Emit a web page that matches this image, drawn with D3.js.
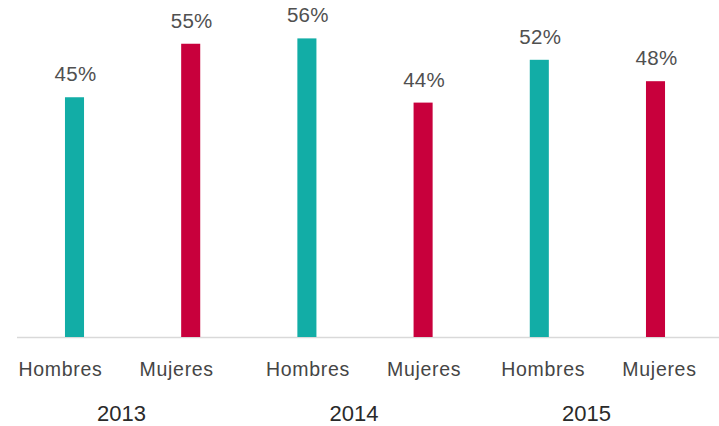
<!DOCTYPE html>
<html><head><meta charset="utf-8">
<script src="https://cdn.jsdelivr.net/npm/d3@7"></script>
<style>body{margin:0;background:#fff}svg{display:block}</style>
</head><body><svg id="c" width="719" height="426"></svg>
<script>
const years = ["2013", "2014", "2015"];
const genders = ["Hombres", "Mujeres"];
const hombres = [45, 56, 52];
const mujeres = [55, 44, 48];
const colors = {Hombres: "#12ADA6", Mujeres: "#C8003C"};

const rows = [];
years.forEach((y, i) => {
  rows.push({key: y + "-H", year: y, g: "Hombres", v: hombres[i]});
  rows.push({key: y + "-M", year: y, g: "Mujeres", v: mujeres[i]});
});

const svg = d3.select("#c");
const baseY = 338;
const x = d3.scaleBand().domain(rows.map(d => d.key)).range([16.4, 713.6]).paddingInner(0.836).paddingOuter(0.418);
const y = d3.scaleLinear().domain([0, 100]).range([baseY, baseY - 535]);

svg.append("line").attr("x1", 17).attr("x2", 719).attr("y1", baseY - 0.5).attr("y2", baseY - 0.5)
  .attr("stroke", "#d9d9d9").attr("stroke-width", 1.5);

svg.selectAll("rect.bar").data(rows).join("rect").attr("class", "bar")
  .attr("x", d => x(d.key)).attr("width", x.bandwidth())
  .attr("y", d => y(d.v)).attr("height", d => y(0) - y(d.v) - 1)
  .attr("fill", d => colors[d.g]);

svg.selectAll("text.val").data(rows).join("text").attr("class", "val")
  .attr("x", d => x(d.key) + x.bandwidth() / 2 + 1).attr("y", d => y(d.v) - 16)
  .attr("text-anchor", "middle").attr("font-family", "Liberation Sans, Arial, sans-serif")
  .attr("font-size", 20.5).attr("letter-spacing", 0.3).attr("fill", "#505050").text(d => d.v + "%");

svg.selectAll("text.cat").data(rows).join("text").attr("class", "cat")
  .attr("x", d => x(d.key) + x.bandwidth() / 2 + (d.year === "2013" ? -14 : (d.year === "2015" ? 4 : 1))).attr("y", 376)
  .attr("text-anchor", "middle").attr("font-family", "Liberation Sans, Arial, sans-serif")
  .attr("font-size", 19.5).attr("letter-spacing", 0.7).attr("fill", "#454545").text(d => d.g);

svg.selectAll("text.yr").data(years).join("text").attr("class", "yr")
  .attr("x", d => (x(d + "-H") + x(d + "-M") + x.bandwidth()) / 2 - 11).attr("y", 421)
  .attr("text-anchor", "middle").attr("font-family", "Liberation Sans, Arial, sans-serif")
  .attr("font-size", 22).attr("fill", "#2a2a2a").text(d => d);
</script></body></html>
